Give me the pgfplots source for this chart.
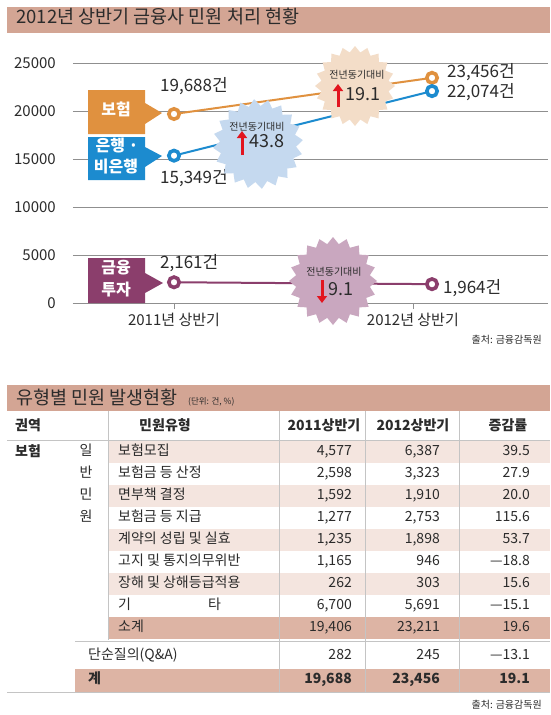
\documentclass[border=0pt]{standalone}
\usepackage{fontspec}
\setmainfont{Noto Sans CJK KR}
\usepackage{pgfplots}
\pgfplotsset{compat=1.18}
\usetikzlibrary{shapes.geometric,arrows.meta}
\definecolor{titlebar}{HTML}{D3A594}
\definecolor{orng}{HTML}{E0913F}
\definecolor{blu}{HTML}{1C8BCF}
\definecolor{purp}{HTML}{8B3E6C}
\definecolor{bblue}{HTML}{C5D9EF}
\definecolor{btan}{HTML}{F3DDC8}
\definecolor{bpurp}{HTML}{C9A7BF}
\definecolor{arrred}{HTML}{E2151F}
\definecolor{rowlight}{HTML}{F4E5DF}
\definecolor{rowdark}{HTML}{DDB4A4}
\definecolor{txt}{HTML}{2B2B2B}
\definecolor{gridc}{HTML}{8F8F8F}
\definecolor{linec}{HTML}{C4C4C4}
\newcommand{\fs}[1]{\fontsize{#1}{#1}\selectfont}
\newcommand\trow[5]{%
 \node[anchor=west] at (118,#1) {#2};
 \node[anchor=east] at (352,#1) {#3};
 \node[anchor=east] at (440,#1) {#4};
 \node[anchor=east] at (530,#1) {#5};}
\begin{document}
\begin{tikzpicture}
\path[use as bounding box, fill=white] (0pt,0pt) rectangle (550pt,-715pt);
\begin{axis}[
  at={(73pt,-303pt)}, anchor=south west,
  scale only axis, width=475pt, height=240pt,
  xmin=-0.3915, xmax=1.4496, ymin=0, ymax=25000,
  clip=false,
  axis x line*=bottom, axis y line*=left,
  y axis line style={draw=none},
  x axis line style={draw=gridc, line width=0.9pt, -},
  ytick={0,5000,10000,15000,20000,25000},
  scaled y ticks=false,
  ymajorgrids, grid style={gridc, line width=0.9pt},
  ytick style={draw=none},
  yticklabel style={anchor=east, inner sep=0pt, xshift=-11pt},
  xtick={0,0.926}, xticklabels={2011년 상반기, 2012년 상반기},
  xtick style={draw=gridc, line width=0.8pt},
  major tick length=6pt, tick align=outside,
  xticklabel style={anchor=north, inner sep=0pt, yshift=-4pt},
  tick label style={font=\fs{15}, text=txt},
  /pgf/number format/1000 sep={},
  /pgf/number format/assume math mode=true,
]
\addplot[orng, line width=2pt, mark=*, mark size=5.2pt, mark options={fill=white, line width=3.6pt}] coordinates {(0,19688) (1,23456)};
\addplot[blu, line width=2pt, mark=*, mark size=5.2pt, mark options={fill=white, line width=3.6pt}] coordinates {(0,15349) (1,22074)};
\addplot[purp, line width=2pt, mark=*, mark size=5.2pt, mark options={fill=white, line width=3.6pt}] coordinates {(0,2161) (1,1964)};
\end{axis}
\begin{scope}[x=1pt,y=-1pt, every node/.style={inner sep=0pt, text=txt, text height=0.72em, text depth=0.12em}]
% title bars
\fill[titlebar] (7,7) rectangle (550,33);
\node[anchor=west, font=\fs{18.5}] at (16,20) {2012년 상반기 금융사 민원 처리 현황};
% label boxes
\fill[orng] (88,90) -- (145,90) -- (145,103) -- (162,113) -- (145,124) -- (145,134) -- (88,134) -- cycle;
\node[font=\fs{16}\bfseries, text=white] at (116,112) {보험};
\fill[blu] (88,137) -- (145,137) -- (145,147) -- (162,156) -- (145,167) -- (145,180) -- (88,180) -- cycle;
\node[font=\fs{16}\bfseries, text=white] at (117,148) {은행 ·};
\node[font=\fs{16}\bfseries, text=white] at (116,169) {비은행};
\fill[purp] (88,258) -- (145,258) -- (145,273) -- (163,283) -- (145,293) -- (145,303) -- (88,303) -- cycle;
\node[font=\fs{16}\bfseries, text=white] at (116,270) {금융};
\node[font=\fs{16}\bfseries, text=white] at (116,292) {투자};
% value labels
\node[anchor=west, font=\fs{17}] at (160,88) {19,688건};
\node[anchor=west, font=\fs{17}] at (160,180) {15,349건};
\node[anchor=west, font=\fs{17}] at (447,74) {23,456건};
\node[anchor=west, font=\fs{17}] at (447,94) {22,074건};
\node[anchor=west, font=\fs{17}] at (160,265) {2,161건};
\node[anchor=west, font=\fs{17}] at (443,290) {1,964건};
% bursts
\node[star, star points=20, star point ratio=1.18, minimum size=90pt, fill=bblue, rotate=5] at (258,144) {};
\node[font=\fs{10}] at (257,127) {전년동기대비};
\draw[arrred, line width=3pt, -{Triangle[length=7pt,width=10pt]}] (242,155) -- (242,131);
\node[anchor=west, font=\fs{18}] at (249,144) {43.8};
\node[star, star points=20, star point ratio=1.18, minimum size=80pt, fill=btan] at (355,86) {};
\node[font=\fs{10}] at (357,75) {전년동기대비};
\draw[arrred, line width=3pt, -{Triangle[length=7pt,width=10pt]}] (338,107) -- (338,84);
\node[anchor=west, font=\fs{18}] at (345,97) {19.1};
\node[star, star points=20, star point ratio=1.18, minimum size=88pt, fill=bpurp] at (333,281) {};
\node[font=\fs{10}] at (334,272) {전년동기대비};
\draw[arrred, line width=3pt, -{Triangle[length=7pt,width=10pt]}] (322,280) -- (322,303);
\node[anchor=west, font=\fs{18}] at (328,292) {9.1};
\node[anchor=east, font=\fs{10}] at (542,340) {출처: 금융감독원};
% ---------- table ----------
\fill[titlebar] (7,385) rectangle (550,411);
\node[anchor=base west, font=\fs{18.5}] at (16,404) {유형별 민원 발생현황};
\node[anchor=base west, font=\fs{8.5}] at (188,404) {(단위: 건, \%)};
\fill[rowlight] (108,441) rectangle (550,463);
\fill[rowlight] (108,485) rectangle (550,507);
\fill[rowlight] (108,529) rectangle (550,551);
\fill[rowlight] (108,573) rectangle (550,595);
\fill[rowdark] (108,617) rectangle (550,639);
\fill[rowdark] (75,669) rectangle (550,692);
\draw[linec, line width=0.8pt] (108,411) -- (108,640);
\draw[linec, line width=0.8pt] (279,411) -- (279,692);
\draw[linec, line width=0.8pt] (365,411) -- (365,692);
\draw[linec, line width=0.8pt] (459,411) -- (459,692);
\draw[linec, line width=1pt] (7,440) -- (550,440);
\draw[linec, line width=1pt] (75,641) -- (550,641);
\draw[linec, line width=1pt] (7,692) -- (550,692);
\begin{scope}[every node/.append style={font=\fs{14}\bfseries}]
\node[anchor=west] at (15,427) {권역};
\node at (165,427) {민원유형};
\node at (324,427) {2011상반기};
\node at (413,427) {2012상반기};
\node at (508,427) {증감률};
\node[anchor=west] at (15,453) {보험};
\end{scope}
\begin{scope}[every node/.append style={font=\fs{14}}]
\node at (86,452) {일};
\node at (86,474) {반};
\node at (86,496) {민};
\node at (86,518) {원};
\trow{452}{보험모집}{4,577}{6,387}{39.5}
\trow{474}{보험금 등 산정}{2,598}{3,323}{27.9}
\trow{496}{면부책 결정}{1,592}{1,910}{20.0}
\trow{518}{보험금 등 지급}{1,277}{2,753}{115.6}
\trow{540}{계약의 성립 및 실효}{1,235}{1,898}{53.7}
\trow{562}{고지 및 통지의무위반}{1,165}{946}{—18.8}
\trow{584}{장해 및 상해등급적용}{262}{303}{15.6}
\trow{606}{기}{6,700}{5,691}{—15.1}
\node[anchor=west] at (208,606) {타};
\trow{628}{소계}{19,406}{23,211}{19.6}
\node[anchor=west] at (88,656) {단순질의(Q\&A)};
\node[anchor=east] at (352,656) {282};
\node[anchor=east] at (440,656) {245};
\node[anchor=east] at (530,656) {—13.1};
\end{scope}
\begin{scope}[every node/.append style={font=\fs{14}\bfseries}]
\node[anchor=west] at (88,680) {계};
\node[anchor=east] at (352,680) {19,688};
\node[anchor=east] at (440,680) {23,456};
\node[anchor=east] at (530,680) {19.1};
\end{scope}
\node[anchor=east, font=\fs{10}] at (542,705) {출처: 금융감독원};
\end{scope}
\end{tikzpicture}
\end{document}
